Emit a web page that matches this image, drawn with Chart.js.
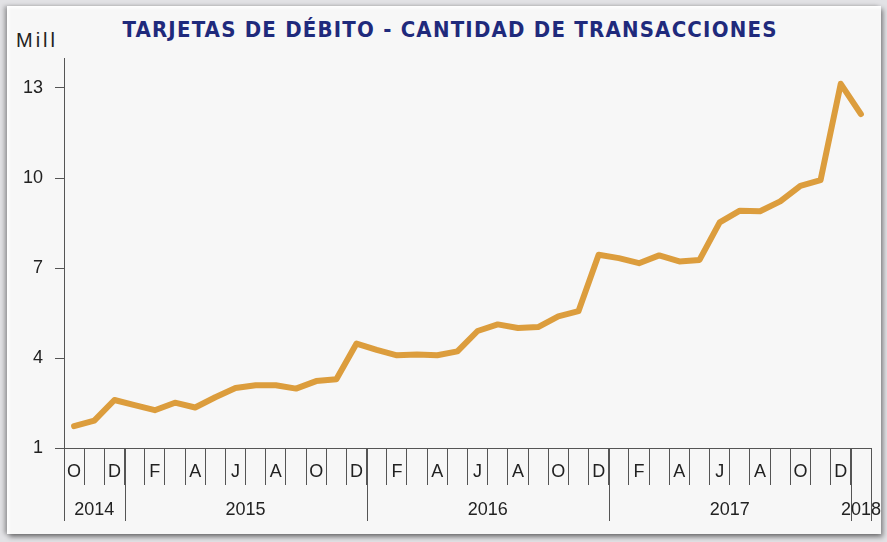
<!DOCTYPE html>
<html>
<head>
<meta charset="utf-8">
<script src="https://cdn.jsdelivr.net/npm/chart.js@4.4.1/dist/chart.umd.min.js"></script>
<style>
  body { margin: 0; width: 887px; height: 542px; background: #e2e2e5; overflow: hidden; position: relative; }
  #panel {
    position: absolute; left: 7px; top: 6px; width: 874px; height: 528px;
    background: #f7f7f7;
    box-shadow: inset 2px 2px 3px #ffffff, 2px 3px 5px rgba(0,0,0,0.45), -3px 0 4px rgba(0,0,0,0.25);
  }
  #title {
    position: absolute; left: 0; top: 17px; width: 900px; text-align: center;
    font-family: "Liberation Sans Narrow", "DejaVu Sans Condensed", sans-serif;
    font-weight: bold; font-size: 22px; letter-spacing: 1.2px; color: #1f2a7c; white-space: nowrap;
  }
  #unit {
    position: absolute; left: 16px; top: 29px;
    font-family: "Liberation Sans", sans-serif; font-size: 20px; letter-spacing: 3px; color: #222;
  }
  canvas { position: absolute; left: 0; top: 0; }
</style>
</head>
<body>
<div id="panel"></div>
<div id="title">TARJETAS DE DÉBITO - CANTIDAD DE TRANSACCIONES</div>
<div id="unit">Mill</div>
<canvas id="transChart" width="887" height="542"></canvas>
<script>
// Oct 2014 .. Jan 2018, one letter per month
const months = ['O','N','D',
  'E','F','M','A','M','J','J','A','S','O','N','D',
  'E','F','M','A','M','J','J','A','S','O','N','D',
  'E','F','M','A','M','J','J','A','S','O','N','D',
  'E'];
const years = ['2014', '2015', '2016', '2017', '2018'];
const monthsPerYear = [3, 12, 12, 12, 1];
const transacciones = [1.73, 1.91, 2.60, 2.43, 2.26, 2.51, 2.35, 2.69, 3.00, 3.09,
  3.09, 2.98, 3.23, 3.29, 4.48, 4.27, 4.09, 4.12, 4.09, 4.22,
  4.90, 5.12, 5.00, 5.03, 5.39, 5.56, 7.44, 7.33, 7.16, 7.42,
  7.22, 7.27, 8.52, 8.91, 8.89, 9.22, 9.74, 9.93, 13.14, 12.13];
const yTicks = [1, 4, 7, 10, 13];

const axisColor = '#555';
const labelFont = { family: 'Liberation Sans', size: 18 };

// year row under the month letters
const yearRow = {
  id: 'yearRow',
  afterDraw(chart) {
    const ctx = chart.ctx;
    const xs = chart.scales.x;
    const step = xs.getPixelForValue(1) - xs.getPixelForValue(0);
    const top = chart.chartArea.bottom;
    let idx = 0;
    ctx.save();
    ctx.strokeStyle = axisColor;
    ctx.lineWidth = 1;
    ctx.fillStyle = '#222';
    ctx.font = '18px "Liberation Sans"';
    ctx.textAlign = 'center';
    ctx.textBaseline = 'middle';
    years.forEach((yr, k) => {
      const left = xs.getPixelForValue(idx) - step / 2;
      const right = xs.getPixelForValue(idx + monthsPerYear[k] - 1) + step / 2;
      ctx.beginPath();
      ctx.moveTo(Math.round(left) + 0.5, top);
      ctx.lineTo(Math.round(left) + 0.5, 521);
      if (k === years.length - 1) {
        ctx.moveTo(Math.round(right) + 0.5, top);
        ctx.lineTo(Math.round(right) + 0.5, 521);
      }
      ctx.stroke();
      ctx.fillText(yr, (left + right) / 2, 510);
      idx += monthsPerYear[k];
    });
    ctx.restore();
  }
};

new Chart(document.getElementById('transChart'), {
  type: 'line',
  data: {
    labels: months,
    datasets: [{
      data: transacciones,
      borderColor: '#dc9d3d',
      borderWidth: 6,
      pointRadius: 0,
      tension: 0,
      borderJoinStyle: 'round',
      borderCapStyle: 'round'
    }]
  },
  options: {
    responsive: false,
    animation: false,
    layout: { padding: { left: 0, top: 58, right: 16, bottom: 34 } },
    plugins: { legend: { display: false }, tooltip: { enabled: false } },
    scales: {
      x: {
        offset: true,
        afterFit: s => { s.height = 60; },
        grid: { offset: true, drawOnChartArea: false, tickLength: 37, color: axisColor },
        border: { display: true, color: axisColor },
        ticks: {
          autoSkip: false, maxRotation: 0, padding: -24,
          color: '#222', font: labelFont,
          callback: (v, i) => (i % 2 === 0 ? months[i] : '')
        }
      },
      y: {
        min: 1, max: 14,
        afterFit: s => { s.width = 64; },
        afterBuildTicks: s => { s.ticks = yTicks.map(v => ({ value: v })); },
        grid: { drawOnChartArea: false, tickLength: 9, color: axisColor },
        border: { display: true, color: axisColor },
        ticks: { padding: 12, color: '#222', font: labelFont }
      }
    }
  },
  plugins: [yearRow]
});
</script>
</body>
</html>
